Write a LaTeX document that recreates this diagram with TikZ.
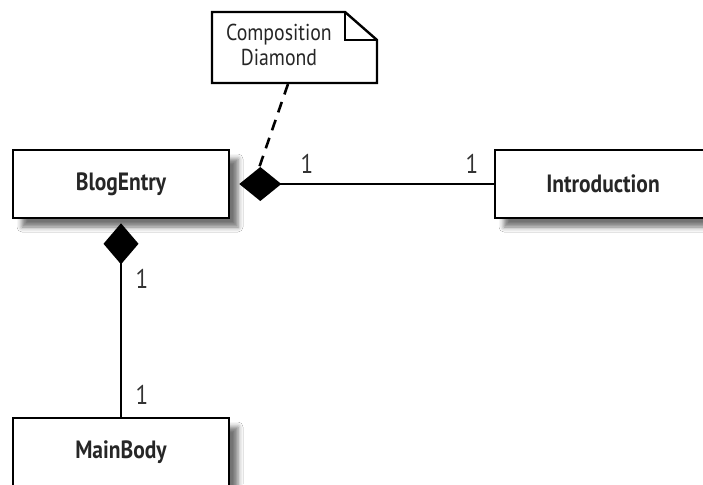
\documentclass[tikz,border=0pt]{standalone}
\usepackage{fontspec}
\setmainfont{PT Sans}[FakeStretch=0.86]
\usetikzlibrary{arrows.meta,shadows.blur,positioning}
\begin{document}
\begin{tikzpicture}[x=1pt,y=-1pt,
  cls/.style={draw=black, line width=2.6pt, fill=white, minimum width=216pt, minimum height=68pt,
    inner sep=0pt, font=\fontsize{25}{27}\selectfont\bfseries, text=black!85,
    blur shadow={shadow xshift=9pt, shadow yshift=-9pt, shadow blur radius=5pt, shadow opacity=55}},
  conn/.style={line width=2.4pt, black},
  mult/.style={font=\fontsize{27}{28}\selectfont, text=black!80, inner sep=0pt},
  notetext/.style={font=\fontsize{23}{25}\selectfont, text=black!85, align=center, inner sep=0pt}
]
\useasboundingbox[fill=white] (0,0) rectangle (703,484);
% classes
\node[cls] (blog)  at (121,184) {BlogEntry};
\node[cls] (intro) at (603,184) {Introduction};
\node[cls] (main)  at (121,452) {MainBody};
% connectors with composition diamonds
\draw[conn, {Diamond[length=42pt,width=34pt,fill=black]}-, shorten <=9pt] (blog.east) -- (intro.west);
\draw[conn, {Diamond[length=41pt,width=35pt,fill=black]}-, shorten <=4pt] (blog.south) -- (main.north);
% multiplicities
\node[mult] (m1) at (307,164) {1};
\node[mult] (m2) at (472,164) {1};
\node[mult] (m3) at (142,279) {1};
\node[mult] (m4) at (142,395) {1};
% note
\coordinate (nA) at (212,12);
\coordinate (nB) at (345,12);
\coordinate (nC) at (377,40);
\coordinate (nD) at (377,83);
\coordinate (nE) at (212,83);
\draw[line width=2.4pt, fill=white, line join=miter] (nA) -- (nB) -- (nC) -- (nD) -- (nE) -- cycle;
\draw[line width=2.4pt, line join=miter] (nB) -- (345,40) -- (nC);
\node[notetext] (note) at (279,45) {Composition\\Diamond};
\coordinate (nbot) at (288,84);
\coordinate (ndia) at (259,168);
\draw[line width=2.6pt, dash pattern=on 11pt off 8pt] (nbot) -- (ndia);
\end{tikzpicture}
\end{document}
